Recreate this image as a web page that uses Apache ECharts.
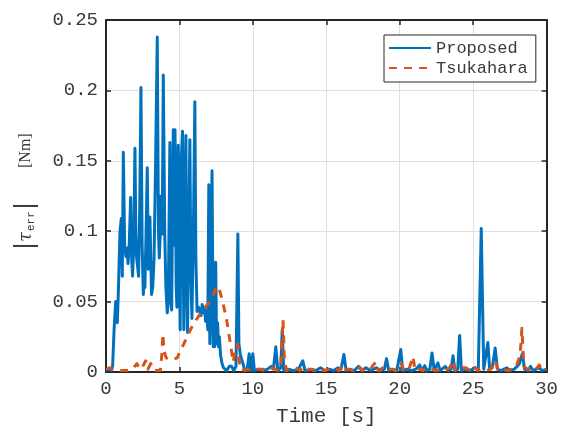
<!DOCTYPE html>
<html>
<head>
<meta charset="utf-8">
<script src="https://cdn.jsdelivr.net/npm/echarts@6/dist/echarts.min.js"></script>
<style>
  html, body { margin: 0; padding: 0; background: #fff; }
  #chart { width: 561px; height: 432px; }
</style>
</head>
<body>
<div id="chart"></div>
<script>
// 系列名
const seriesNames = ['Proposed', 'Tsukahara']

// Proposed: [time s, |tau_err| Nm]
const proposedData = [
  [0, 0.001], [0.2, 0.002], [0.35, 0.001], [0.45, 0.004], [0.55, 0.03], [0.66, 0.05], [0.77, 0.035],
  [0.85, 0.06], [0.95, 0.099], [1.04, 0.109], [1.11, 0.068], [1.18, 0.156], [1.27, 0.09], [1.36, 0.082],
  [1.43, 0.088], [1.5, 0.077], [1.58, 0.09], [1.68, 0.124], [1.75, 0.08], [1.81, 0.068], [1.89, 0.09],
  [1.97, 0.159], [2.03, 0.1], [2.08, 0.082], [2.15, 0.075], [2.22, 0.068], [2.3, 0.12], [2.38, 0.202],
  [2.46, 0.09], [2.54, 0.055], [2.6, 0.065], [2.65, 0.06], [2.73, 0.1], [2.81, 0.145], [2.88, 0.073],
  [2.94, 0.09], [2.99, 0.11], [3.05, 0.08], [3.1, 0.055], [3.18, 0.06], [3.27, 0.08], [3.38, 0.15],
  [3.49, 0.238], [3.57, 0.1], [3.63, 0.081], [3.7, 0.1], [3.75, 0.125], [3.83, 0.098], [3.9, 0.211],
  [4.0, 0.098], [4.08, 0.06], [4.17, 0.042], [4.24, 0.05], [4.35, 0.163], [4.42, 0.05], [4.47, 0.044],
  [4.58, 0.172], [4.64, 0.09], [4.7, 0.172], [4.78, 0.06], [4.83, 0.046], [4.92, 0.161], [4.98, 0.09],
  [5.05, 0.03], [5.12, 0.15], [5.21, 0.171], [5.26, 0.08], [5.3, 0.03], [5.37, 0.12], [5.44, 0.168],
  [5.5, 0.06], [5.55, 0.028], [5.62, 0.09], [5.71, 0.165], [5.78, 0.07], [5.85, 0.038], [5.95, 0.1],
  [6.05, 0.192], [6.12, 0.08], [6.2, 0.043], [6.3, 0.046], [6.4, 0.047], [6.47, 0.04], [6.55, 0.048],
  [6.62, 0.042], [6.7, 0.046], [6.78, 0.036], [6.85, 0.044], [6.93, 0.03], [7.0, 0.133], [7.07, 0.02],
  [7.14, 0.06], [7.22, 0.143], [7.3, 0.018], [7.36, 0.04], [7.4, 0.018], [7.47, 0.078], [7.53, 0.02],
  [7.6, 0.035], [7.66, 0.018], [7.72, 0.025], [7.8, 0.012], [7.9, 0.006], [8.0, 0.003], [8.2, 0.001],
  [8.4, 0.004], [8.55, 0.004], [8.7, 0.001], [8.85, 0.004], [8.98, 0.098], [9.05, 0.02], [9.15, 0.012],
  [9.3, 0.007], [9.45, 0.001], [9.6, 0.001], [9.75, 0.013], [9.85, 0.001], [10.0, 0.013], [10.1, 0.001],
  [10.4, 0.002], [10.7, 0.001], [11.0, 0.002], [11.25, 0.004], [11.4, 0.002], [11.56, 0.018], [11.7, 0.001],
  [11.9, 0.003], [12.0, 0.03], [12.1, 0.001], [12.4, 0.002], [12.8, 0.001], [13.1, 0.002], [13.4, 0.008],
  [13.55, 0.001], [13.7, 0.001], [14.0, 0.002], [14.3, 0.001], [14.6, 0.003], [14.9, 0.001], [15.2, 0.002],
  [15.5, 0.001], [15.8, 0.003], [16.0, 0.002], [16.2, 0.0125], [16.35, 0.001], [16.6, 0.002], [16.9, 0.001],
  [17.2, 0.004], [17.4, 0.001], [17.7, 0.003], [18.0, 0.001], [18.4, 0.003], [18.7, 0.001], [18.95, 0.002],
  [19.1, 0.0095], [19.25, 0.001], [19.5, 0.002], [19.8, 0.001], [20.07, 0.016], [20.2, 0.001], [20.5, 0.002],
  [20.8, 0.001], [21.1, 0.002], [21.36, 0.005], [21.5, 0.001], [21.7, 0.0045], [21.85, 0.001], [22.05, 0.002],
  [22.2, 0.0135], [22.35, 0.001], [22.6, 0.0065], [22.75, 0.001], [23.1, 0.004], [23.3, 0.001], [23.5, 0.002],
  [23.63, 0.0115], [23.75, 0.001], [23.95, 0.002], [24.08, 0.026], [24.2, 0.001], [24.5, 0.002], [24.8, 0.001],
  [25.1, 0.003], [25.35, 0.002], [25.55, 0.102], [25.72, 0.002], [25.85, 0.003], [26.0, 0.021], [26.12, 0.002],
  [26.3, 0.003], [26.5, 0.017], [26.65, 0.002], [26.9, 0.001], [27.1, 0.002], [27.3, 0.003], [27.5, 0.001],
  [27.8, 0.002], [28.0, 0.004], [28.15, 0.006], [28.35, 0.013], [28.5, 0.002], [28.75, 0.001], [28.9, 0.004],
  [29.1, 0.001], [29.3, 0.002], [29.5, 0.003], [29.7, 0.001], [30.0, 0.002]
]

// Tsukahara: [time s, |tau_err| Nm]
const tsukaharaData = [
  [0, 0.002], [0.3, 0.003], [0.5, 0.002], [0.8, 0.001], [1.2, 0.001], [1.5, 0.001], [1.8, 0.002],
  [2.1, 0.006], [2.3, 0.002], [2.5, 0.004], [2.7, 0.008], [2.85, 0.002], [3.05, 0.006], [3.3, 0.001],
  [3.7, 0.001], [3.8, 0.012], [3.87, 0.027], [3.95, 0.015], [4.1, 0.01], [4.3, 0.009], [4.6, 0.009],
  [4.85, 0.01], [5.05, 0.015], [5.3, 0.02], [5.6, 0.027], [5.9, 0.033], [6.2, 0.038], [6.6, 0.044],
  [7.07, 0.05], [7.35, 0.056], [7.55, 0.061], [7.7, 0.059], [7.87, 0.053], [8.05, 0.045], [8.2, 0.038],
  [8.44, 0.022], [8.66, 0.007], [8.8, 0.015], [8.95, 0.02], [9.1, 0.006], [9.23, 0.001], [9.6, 0.002],
  [9.9, 0.001], [10.3, 0.002], [10.7, 0.002], [11.0, 0.001], [11.38, 0.003], [11.7, 0.001], [11.9, 0.004],
  [12.05, 0.037], [12.15, 0.008], [12.3, 0.001], [12.6, 0.002], [12.9, 0.003], [13.2, 0.001], [13.5, 0.004],
  [13.7, 0.002], [13.9, 0.002], [14.2, 0.001], [14.5, 0.002], [14.85, 0.001], [15.2, 0.002], [15.6, 0.002],
  [15.9, 0.001], [16.1, 0.005], [16.3, 0.002], [16.5, 0.002], [16.8, 0.001], [17.0, 0.003], [17.2, 0.004],
  [17.5, 0.001], [17.8, 0.003], [18.0, 0.002], [18.2, 0.005], [18.37, 0.007], [18.55, 0.001], [18.7, 0.002],
  [19.0, 0.004], [19.2, 0.002], [19.4, 0.002], [19.7, 0.001], [20.1, 0.006], [20.3, 0.001], [20.6, 0.001],
  [20.9, 0.011], [21.05, 0.001], [21.4, 0.002], [21.6, 0.001], [21.9, 0.003], [22.2, 0.002], [22.5, 0.001],
  [22.8, 0.002], [23.1, 0.001], [23.4, 0.003], [23.63, 0.008], [23.8, 0.001], [24.1, 0.003], [24.5, 0.003],
  [24.8, 0.001], [25.05, 0.004], [25.3, 0.001], [25.6, 0.002], [25.9, 0.001], [26.2, 0.002], [26.5, 0.008],
  [26.7, 0.001], [27.0, 0.002], [27.3, 0.001], [27.6, 0.002], [27.9, 0.003], [28.1, 0.009], [28.2, 0.012],
  [28.32, 0.031], [28.45, 0.004], [28.7, 0.002], [29.0, 0.002], [29.2, 0.001], [29.5, 0.005], [29.7, 0.001],
  [30.0, 0.002]
]

const axisColor = '#262626'
const textColor = '#3a3a3a'
const gridColor = '#dfdfdf'
const monoFont = 'Liberation Mono'

const chart = echarts.init(document.getElementById('chart'))

// 四边框的轴线和朝内刻度
const lineStyleBox = { show: true, onZero: false, lineStyle: { color: axisColor, width: 2 } }
const tickStyleBox = { show: true, inside: true, length: 5, lineStyle: { color: axisColor, width: 1.5 } }

chart.setOption({
  animation: false,
  backgroundColor: '#fff',
  grid: { left: 106, right: 14, top: 20, bottom: 60 },
  legend: {
    orient: 'vertical',
    left: 384,
    top: 35,
    data: seriesNames,
    backgroundColor: '#fff',
    borderColor: axisColor,
    borderWidth: 1,
    padding: [4, 8, 5, 4],
    itemWidth: 42,
    itemHeight: 10,
    itemGap: 2,
    // 图例里不要圆点，只留线
    itemStyle: { color: 'rgba(0,0,0,0)', borderColor: 'rgba(0,0,0,0)', borderWidth: 0 },
    textStyle: { fontFamily: monoFont, fontSize: 17, color: textColor, lineHeight: 18 }
  },
  // y轴标题 |τ_err| [Nm]，旋转90度
  graphic: [{
    type: 'group',
    x: 26,
    y: 250,
    rotation: Math.PI / 2,
    silent: true,
    children: [
      { type: 'text', x: 0, y: 0, style: { text: '|', font: '24px "DejaVu Sans"', fill: textColor, verticalAlign: 'middle' } },
      { type: 'text', x: 8, y: 0, style: { text: 'τ', font: 'italic 18px "DejaVu Serif"', fill: textColor, verticalAlign: 'middle' } },
      { type: 'text', x: 19, y: 5, style: { text: 'err', font: '11px "Liberation Mono"', fill: textColor, verticalAlign: 'middle' } },
      { type: 'text', x: 40, y: 0, style: { text: '|', font: '24px "DejaVu Sans"', fill: textColor, verticalAlign: 'middle' } },
      { type: 'text', x: 82, y: 0, style: { text: '[Nm]', font: '16px "Liberation Serif"', fill: textColor, verticalAlign: 'middle' } }
    ]
  }],
  xAxis: [{
    type: 'value',
    min: 0,
    max: 30,
    interval: 5,
    name: 'Time [s]',
    nameLocation: 'middle',
    nameGap: 34,
    nameTextStyle: { fontFamily: monoFont, fontSize: 21, color: textColor },
    axisLine: lineStyleBox,
    axisTick: tickStyleBox,
    axisLabel: { fontFamily: monoFont, fontSize: 19, color: textColor, margin: 7 },
    splitLine: { show: true, lineStyle: { color: gridColor, width: 1 } }
  }, {
    type: 'value',
    position: 'top',
    min: 0,
    max: 30,
    interval: 5,
    axisLine: lineStyleBox,
    axisTick: tickStyleBox,
    axisLabel: { show: false },
    splitLine: { show: false }
  }],
  yAxis: [{
    type: 'value',
    min: 0,
    max: 0.25,
    interval: 0.05,
    axisLine: lineStyleBox,
    axisTick: tickStyleBox,
    axisLabel: { fontFamily: monoFont, fontSize: 19, color: textColor, margin: 8 },
    splitLine: { show: true, lineStyle: { color: gridColor, width: 1 } }
  }, {
    type: 'value',
    position: 'right',
    min: 0,
    max: 0.25,
    interval: 0.05,
    axisLine: lineStyleBox,
    axisTick: tickStyleBox,
    axisLabel: { show: false },
    splitLine: { show: false }
  }],
  series: [
    {
      name: seriesNames[0],
      type: 'line',
      data: proposedData,
      symbol: 'none',
      lineStyle: { color: '#0072BD', width: 3, join: 'round' },
      itemStyle: { color: '#0072BD' },
      z: 2
    },
    {
      name: seriesNames[1],
      type: 'line',
      data: tsukaharaData,
      symbol: 'none',
      lineStyle: { color: '#D95319', width: 3, type: [8, 7], join: 'round' },
      itemStyle: { color: '#D95319' },
      z: 3
    },
    {
      // 空系列，只为让上/右边框轴显示
      type: 'line',
      xAxisIndex: 1,
      yAxisIndex: 1,
      data: [],
      silent: true
    }
  ]
})
</script>
</body>
</html>
